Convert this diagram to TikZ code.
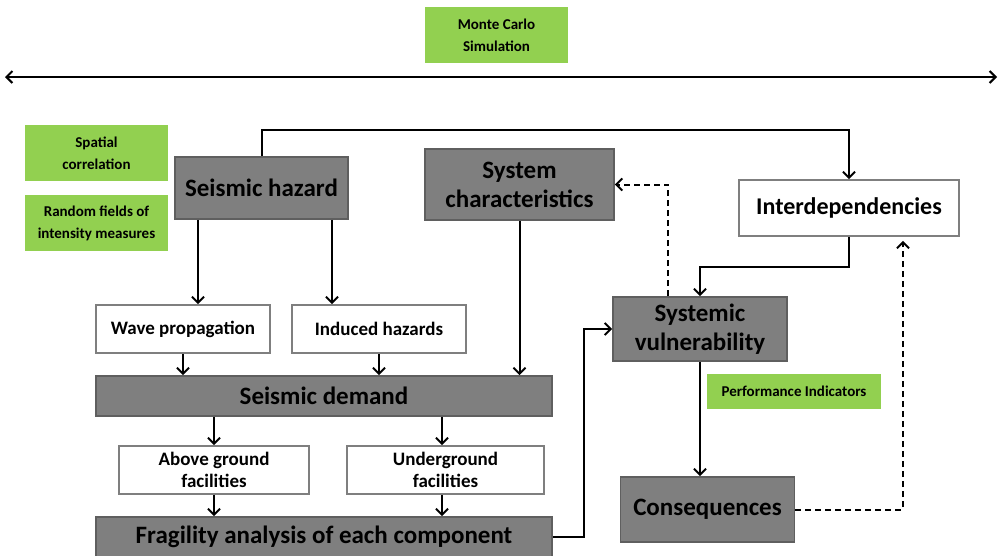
\documentclass[tikz,border=0pt]{standalone}
\usepackage{fontspec}
\setmainfont{Carlito}
\usetikzlibrary{arrows.meta}
\definecolor{boxgray}{HTML}{7F7F7F}
\definecolor{edgegray}{HTML}{5F5F5F}
\definecolor{leafgreen}{HTML}{92D050}
\begin{document}
\begin{tikzpicture}[x=1pt,y=-1pt,
  every node/.style={inner sep=0pt,align=center,font=\bfseries},
  mainbox/.style={draw=edgegray,line width=1.8pt,fill=boxgray,font=\fontsize{25}{29}\bfseries\selectfont},
  whitebox/.style={draw=boxgray,line width=1.8pt,fill=white,font=\fontsize{19}{22}\bfseries\selectfont},
  bigwhite/.style={draw=boxgray,line width=1.8pt,fill=white,font=\fontsize{24}{28}\bfseries\selectfont},
  notebox/.style={fill=leafgreen,font=\fontsize{15}{22}\bfseries\selectfont},
  flow/.style={line width=2pt,-{Straight Barb[length=6pt,width=12pt,line width=2pt]}},
  backflow/.style={flow,dash pattern=on 6pt off 4pt},
  both/.style={line width=2pt,{Straight Barb[length=6pt,width=12pt,line width=2pt]}-{Straight Barb[length=6pt,width=12pt,line width=2pt]}}
]
\useasboundingbox (0,0) rectangle (999,555);

% side notes
\node[notebox,minimum width=143pt,minimum height=56pt] (mc) at (496.5,35) {Monte Carlo\\Simulation};
\node[notebox,minimum width=143pt,minimum height=56pt] (spc) at (96.5,153) {Spatial\\correlation};
\node[notebox,minimum width=143pt,minimum height=56pt] (rf) at (96.5,223) {Random fields of\\intensity measures};
\node[notebox,minimum width=174pt,minimum height=35pt] (pi) at (794,391.5) {Performance Indicators};

% simulation span
\coordinate (spanL) at (5,77);
\coordinate (spanR) at (997,77);
\draw[both] (spanL) -- (spanR);

% main chain
\node[mainbox,minimum width=173pt,minimum height=62pt] (sh) at (261.5,188) {Seismic hazard};
\node[mainbox,minimum width=189pt,minimum height=71pt] (sys) at (519.5,184.5) {System\\characteristics};
\node[bigwhite,minimum width=220pt,minimum height=56pt] (inter) at (849,208) {Interdependencies};
\node[mainbox,minimum width=174pt,minimum height=64pt] (sv) at (700,329) {Systemic\\vulnerability};
\node[whitebox,minimum width=174pt,minimum height=48pt] (wp) at (183,329) {Wave propagation};
\node[whitebox,minimum width=174pt,minimum height=48pt] (ih) at (379,329) {Induced hazards};
\node[mainbox,minimum width=456pt,minimum height=40pt] (sd) at (324,396) {Seismic demand};
\node[whitebox,minimum width=190pt,minimum height=48pt] (ag) at (214,470) {Above ground\\facilities};
\node[whitebox,minimum width=197pt,minimum height=48pt] (ug) at (445.5,470) {Underground\\facilities};
\node[mainbox,minimum width=456pt,minimum height=40pt] (fa) at (324,537) {Fragility analysis of each component};
\node[mainbox,minimum width=174pt,minimum height=65pt] (cons) at (707.5,509.5) {Consequences};

% connectors
\draw[flow] (sh.north) -- ++(0,-26) -| (inter.north);
\draw[flow] ([xshift=-63.5pt]sh.south) -- ([xshift=15pt]wp.north);
\draw[flow] ([xshift=70.5pt]sh.south) -- ([xshift=-47pt]ih.north);
\draw[flow] (wp.south) -- (wp.south |- sd.north);
\draw[flow] (ih.south) -- (ih.south |- sd.north);
\draw[flow] (sys.south) -- (sys.south |- sd.north);
\draw[flow] (sd.south -| ag.north) -- (ag.north);
\draw[flow] ([xshift=-3.5pt]sd.south -| ug.north) -- ([xshift=-3.5pt]ug.north);
\draw[flow] (ag.south) -- (ag.south |- fa.north);
\draw[flow] ([xshift=-3.5pt]ug.south) -- ([xshift=-3.5pt]ug.south |- fa.north);
\draw[flow] (fa.east) -- ++(31,0) |- (sv.west);
\draw[flow] (inter.south) -- ++(0,30) -| (sv.north);
\draw[backflow] ([xshift=-32pt]sv.north) |- (sys.east);
\draw[flow] (sv.south) -- (sv.south |- cons.north);
\draw[backflow] (cons.east) -| ([xshift=54pt,yshift=-4pt]inter.south);
\end{tikzpicture}
\end{document}
